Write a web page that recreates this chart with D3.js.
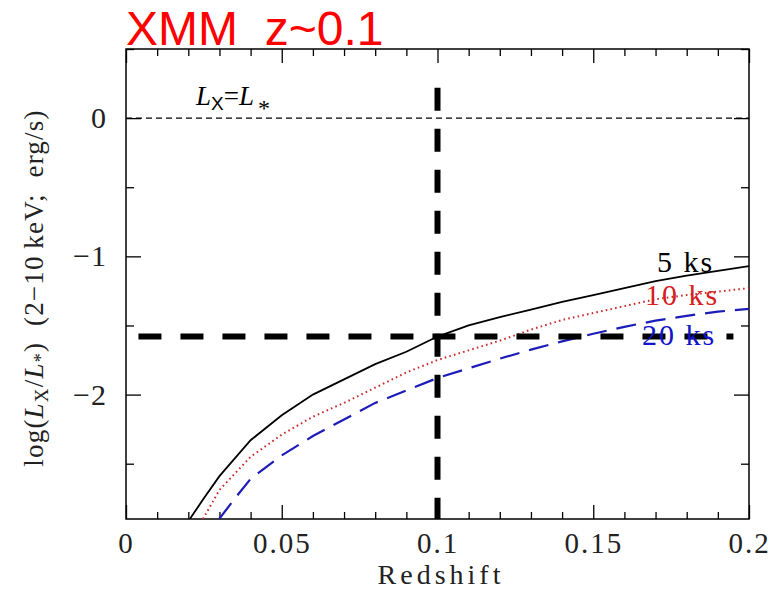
<!DOCTYPE html>
<html><head><meta charset="utf-8">
<script src="https://cdn.jsdelivr.net/npm/d3@7"></script>
<style>body{margin:0;background:#fff}</style>
</head><body><svg id="c" width="773" height="590" xmlns="http://www.w3.org/2000/svg"></svg>
<script>
// ---- data ----
const titleText = "XMM  z~0.1";
const xTicks = [0, 0.05, 0.1, 0.15, 0.2];
const xTickLabels = ["0", "0.05", "0.1", "0.15", "0.2"];
const xMinor = [0.01,0.02,0.03,0.04,0.06,0.07,0.08,0.09,0.11,0.12,0.13,0.14,0.16,0.17,0.18,0.19];
const yTicks = [0, -1, -2];
const yTickLabels = ["0", "\u22121", "\u22122"];
const yMinor = [0.5, -0.5, -1.5, -2.5];

const z5  = [0.0205,0.025,0.03,0.04,0.05,0.06,0.07,0.08,0.09,0.1,0.11,0.12,0.13,0.14,0.15,0.16,0.17,0.18,0.19,0.2];
const lx5 = [-2.9,-2.75,-2.59,-2.33,-2.15,-2.0,-1.89,-1.78,-1.69,-1.58,-1.50,-1.44,-1.385,-1.33,-1.28,-1.23,-1.18,-1.14,-1.105,-1.07];
const z10  = [0.0247,0.03,0.04,0.05,0.06,0.07,0.08,0.09,0.1,0.11,0.12,0.13,0.14,0.15,0.16,0.17,0.18,0.19,0.2];
const lx10 = [-2.9,-2.69,-2.45,-2.29,-2.16,-2.06,-1.95,-1.84,-1.75,-1.68,-1.61,-1.53,-1.46,-1.41,-1.36,-1.31,-1.28,-1.255,-1.23];
const z20  = [0.0299,0.035,0.04,0.05,0.06,0.07,0.08,0.09,0.1,0.11,0.12,0.13,0.14,0.15,0.16,0.17,0.18,0.19,0.2];
const lx20 = [-2.9,-2.75,-2.61,-2.44,-2.30,-2.18,-2.06,-1.97,-1.88,-1.81,-1.74,-1.675,-1.615,-1.56,-1.51,-1.465,-1.43,-1.40,-1.38];
const seriesNames = ["5 ks", "10 ks", "20 ks"];
const seriesColors = ["#000000", "#cc2a2a", "#1c1cb8"];
const labelColors = ["#000000", "#d42020", "#1414c8"];
const refLine = 0;              // Lx = L*
const cutZ = 0.1;               // vertical thick dashed
const cutZTop = 0.22;
const cutLx = -1.58;            // horizontal thick dashed
const cutLxRange = [0.004, 0.195];

// ---- layout ----
const svg = d3.select("#c");
const L = 126, R = 749, T = 49, B = 519;
const x = d3.scaleLinear().domain([0, 0.2]).range([L, R]);
const y = d3.scaleLinear().domain([-2.9, 0.5]).range([B, T]);
const serif = "Liberation Serif";

svg.append("defs").append("clipPath").attr("id", "clip")
  .append("rect").attr("x", L).attr("y", T).attr("width", R - L).attr("height", B - T);

// title
svg.append("text").attr("x", 126).attr("y", 45)
  .attr("font-family", "Liberation Sans").attr("font-size", 48)
  .attr("fill", "#ff0000").style("white-space", "pre").text(titleText);

// axes
function styleAxis(g) {
  g.select(".domain").remove();
  g.selectAll(".tick line").attr("stroke", "#000").attr("stroke-width", 1.3);
}
const fmtX = (d) => xTickLabels[xTicks.indexOf(d)];
const fmtY = (d) => yTickLabels[yTicks.indexOf(d)];

svg.append("g").attr("transform", `translate(0,${B})`)
  .call(d3.axisBottom(x).tickValues(xTicks).tickSize(-14).tickPadding(13).tickFormat(fmtX))
  .call(styleAxis)
  .selectAll("text").style("font-family", serif).style("font-size", "29px").attr("fill", "#222")
  .style("letter-spacing", "2px").attr("dy", "0.71em");
svg.append("g").attr("transform", `translate(0,${B})`)
  .call(d3.axisBottom(x).tickValues(xMinor).tickSize(-7).tickFormat("")).call(styleAxis);
svg.append("g").attr("transform", `translate(0,${T})`)
  .call(d3.axisTop(x).tickValues(xTicks).tickSize(-14).tickFormat("")).call(styleAxis);
svg.append("g").attr("transform", `translate(0,${T})`)
  .call(d3.axisTop(x).tickValues(xMinor).tickSize(-7).tickFormat("")).call(styleAxis);

svg.append("g").attr("transform", `translate(${L},0)`)
  .call(d3.axisLeft(y).tickValues(yTicks).tickSize(-15).tickPadding(19).tickFormat(fmtY))
  .call(styleAxis)
  .selectAll("text").style("font-family", serif).style("font-size", "30px").attr("fill", "#222")
  .style("letter-spacing", "1px");
svg.append("g").attr("transform", `translate(${L},0)`)
  .call(d3.axisLeft(y).tickValues(yMinor).tickSize(-8).tickFormat("")).call(styleAxis);
svg.append("g").attr("transform", `translate(${R},0)`)
  .call(d3.axisRight(y).tickValues(yTicks).tickSize(-15).tickFormat("")).call(styleAxis);
svg.append("g").attr("transform", `translate(${R},0)`)
  .call(d3.axisRight(y).tickValues(yMinor).tickSize(-8).tickFormat("")).call(styleAxis);

// frame
svg.append("rect").attr("x", L).attr("y", T).attr("width", R - L).attr("height", B - T)
  .attr("fill", "none").attr("stroke", "#000").attr("stroke-width", 1.5);

// axis titles
svg.append("text").attr("x", 441).attr("y", 584).attr("text-anchor", "middle")
  .style("font-family", serif).style("font-size", "28px").attr("fill", "#222").style("letter-spacing", "4px")
  .text("Redshift");

const yl = svg.append("text").attr("transform", "translate(43,288) rotate(-90)")
  .attr("text-anchor", "middle").style("font-family", serif).style("font-size", "27px").attr("fill", "#222")
  .style("letter-spacing", "1.2px").style("white-space", "pre");
yl.append("tspan").text("log(");
yl.append("tspan").attr("font-style", "italic").text("L");
yl.append("tspan").style("font-size", "19px").attr("dy", 5).text("X");
yl.append("tspan").attr("dy", -5).text("/");
yl.append("tspan").attr("font-style", "italic").text("L");
yl.append("tspan").style("font-size", "18px").attr("dy", 4).text("*");
yl.append("tspan").attr("dy", -4).text(")  (2\u221210\u2009keV;  erg/s)");

// reference line Lx = L*
svg.append("line").attr("x1", L).attr("x2", R).attr("y1", y(refLine)).attr("y2", y(refLine))
  .attr("stroke", "#000").attr("stroke-width", 1.2).attr("stroke-dasharray", "6,4");
const rl = svg.append("text").attr("x", 196).attr("y", 105).style("font-family", serif)
  .style("font-size", "27px").attr("fill", "#000");
rl.append("tspan").attr("font-style", "italic").text("L");
rl.append("tspan").style("font-size", "19px").attr("dy", 5).style("font-family", "Liberation Sans").text("X");
rl.append("tspan").attr("dy", -5).text("=");
rl.append("tspan").attr("font-style", "italic").text("L");
rl.append("tspan").style("font-size", "24px").attr("dy", 11).attr("dx", 4).text("*");

// curves
const line = d3.line().x(d => x(d[0])).y(d => y(d[1])).curve(d3.curveLinear);
const series = [
  {z: z5, v: lx5, dash: null, w: 1.8},
  {z: z10, v: lx10, dash: "1.6,3.2", w: 2},
  {z: z20, v: lx20, dash: "20,10", w: 2.2}
];
const cg = svg.append("g").attr("clip-path", "url(#clip)");
series.forEach((s, i) => {
  cg.append("path").datum(s.z.map((zz, j) => [zz, s.v[j]]))
    .attr("d", line).attr("fill", "none").attr("stroke", seriesColors[i])
    .attr("stroke-width", s.w).attr("stroke-dasharray", s.dash);
});

// thick dashed cut lines
svg.append("line").attr("x1", x(cutZ)).attr("x2", x(cutZ)).attr("y1", y(cutZTop)).attr("y2", B)
  .attr("stroke", "#000").attr("stroke-width", 6).attr("stroke-dasharray", "23,18");
svg.append("line").attr("x1", x(cutLxRange[0])).attr("x2", x(cutLxRange[1]))
  .attr("y1", y(cutLx)).attr("y2", y(cutLx))
  .attr("stroke", "#000").attr("stroke-width", 6).attr("stroke-dasharray", "23,19");

// series labels
const labPos = [[657, 272], [645, 305], [642, 345]];
seriesNames.forEach((n, i) => {
  svg.append("text").attr("x", labPos[i][0]).attr("y", labPos[i][1])
    .style("font-family", serif).style("font-size", "30px").style("letter-spacing", "2px")
    .attr("fill", labelColors[i]).style("white-space", "pre").text(n);
});
</script></body></html>
